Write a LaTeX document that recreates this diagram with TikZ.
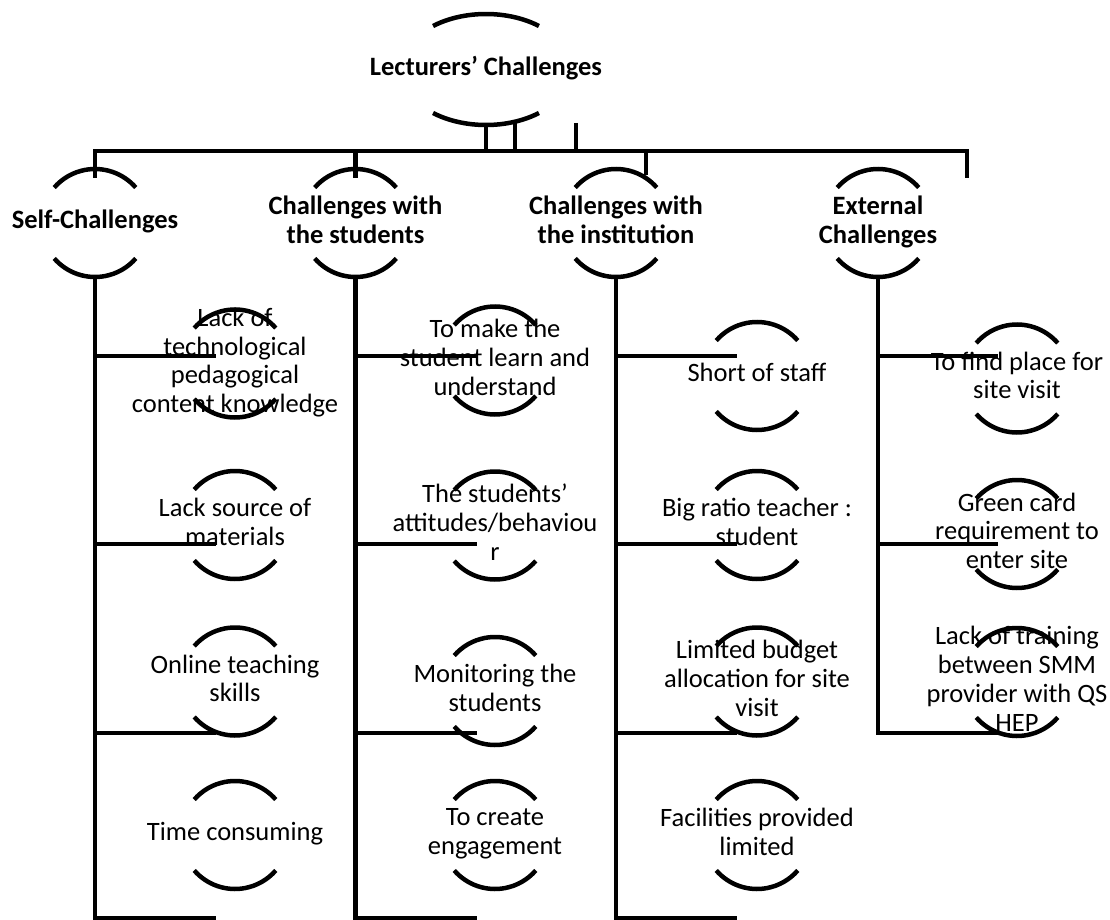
\documentclass[tikz,border=0pt]{standalone}
\usepackage{fontspec}
\setmainfont{Carlito}
\usetikzlibrary{calc}
\begin{document}
\begin{tikzpicture}[x=0.5pt,y=0.5pt,
  stroke4/.style={line width=2.25pt},
  lbl/.style={align=center, inner sep=0pt,
    font=\fontsize{13.25pt}{14.4pt}\selectfont,
    execute at begin node={\rule[-3.3pt]{0pt}{10.5pt}},
    execute at end node={\rule[-3.3pt]{0pt}{10.5pt}}},
  hdr/.style={lbl, font=\fontsize{13.25pt}{14.4pt}\selectfont\bfseries},
  brk/.pic={
    \draw[stroke4] (41:54) arc[start angle=41,end angle=139,radius=54];
    \draw[stroke4] (-139:54) arc[start angle=-139,end angle=-41,radius=54];},
  bigbrk/.pic={
    \draw[stroke4] (51.6:85.3 and 55.5) arc[start angle=51.6,end angle=128.4,x radius=85.3,y radius=55.5];
    \draw[stroke4] (-128.4:85.3 and 55.5) arc[start angle=-128.4,end angle=-51.6,x radius=85.3,y radius=55.5];}
]
\useasboundingbox (0,0) rectangle (1110,-920);

% root
\node[hdr] (root) at (486,-69.5) {Lecturers’ Challenges};
\pic at (root) {bigbrk};

% level 1
\node[hdr] (s1) at (95,-223) {Self-Challenges};
\node[hdr] (s2) at (355.5,-223) {Challenges with\\the students};
\node[hdr] (s3) at (616,-223) {Challenges with\\the institution};
\node[hdr] (s4) at (878,-223) {External\\Challenges};
\foreach \n in {s1,s2,s3,s4} {\pic at (\n) {brk};}

% level 2 : self
\node[lbl] (a1) at (235,-363.5) {Lack of\\technological\\pedagogical\\content knowledge};
\node[lbl] (a2) at (235,-525) {Lack source of\\materials};
\node[lbl] (a3) at (235,-681.5) {Online teaching\\skills};
\node[lbl] (a4) at (235,-835) {Time consuming};
% students
\node[lbl] (b1) at (495,-360.5) {To make the\\student learn and\\understand};
\node[lbl] (b2) at (495,-525.5) {The students’\\attitudes/behaviou\\r};
\node[lbl] (b3) at (495,-691) {Monitoring the\\students};
\node[lbl] (b4) at (495,-835) {To create\\engagement};
% institution
\node[lbl] (c1) at (757,-376) {Short of staff};
\node[lbl] (c2) at (757,-525) {Big ratio teacher :\\student};
\node[lbl] (c3) at (757,-681.5) {Limited budget\\allocation for site\\visit};
\node[lbl] (c4) at (757,-835) {Facilities provided\\limited};
% external
\node[lbl] (d1) at (1017,-378.5) {To find place for\\site visit};
\node[lbl] (d2) at (1017,-534) {Green card\\requirement to\\enter site};
\node[lbl] (d3) at (1017,-682) {Lack of training\\between SMM\\provider with QS\\HEP};
\foreach \n in {a1,a2,a3,a4,b1,b2,b3,b4,c1,c2,c3,c4,d1,d2,d3} {\pic at (\n) {brk};}

% connectors: root to bar
\coordinate (barL) at (95,-151);
\coordinate (barR) at (967,-151);
\coordinate (r1) at ($(root)+(0,-55.5)$);
\coordinate (r2) at ($(root)+(29,-52.2)$);
\coordinate (r3) at ($(root)+(90,-53.5)$);
\draw[stroke4] (r1) -- (r1 |- barL);
\draw[stroke4] (r2) -- (r2 |- barL);
\draw[stroke4] (r3) -- (r3 |- barL);
\draw[stroke4] ($(s1)+(0,45)$) |- (barR) -- ++(0,-27);
\draw[stroke4] (s2 |- barL) -- ++(0,-27);
\draw[stroke4] (646,-151) -- (646,-175);

% column: self
\coordinate (s1b) at ($(s1)+(0,-54)$);
\draw[stroke4] (s1b) -- (95,-918) -- (216,-918);
\foreach \y in {356,544,733} {\draw[stroke4] (95,-\y) -- (216,-\y);}
% column: students
\coordinate (s2b) at ($(s2)+(0,-54)$);
\draw[stroke4] (s2b) -- (355.5,-918) -- (477,-918);
\foreach \y in {356,544,733} {\draw[stroke4] (355.5,-\y) -- (477,-\y);}
% column: institution
\coordinate (s3b) at ($(s3)+(0,-54)$);
\draw[stroke4] (s3b) -- (616,-918) -- (737,-918);
\foreach \y in {356,544,733} {\draw[stroke4] (616,-\y) -- (737,-\y);}
% column: external
\coordinate (s4b) at ($(s4)+(0,-54)$);
\draw[stroke4] (s4b) -- (878,-733) -- (998,-733);
\foreach \y in {356,544} {\draw[stroke4] (878,-\y) -- (998,-\y);}
\end{tikzpicture}
\end{document}
